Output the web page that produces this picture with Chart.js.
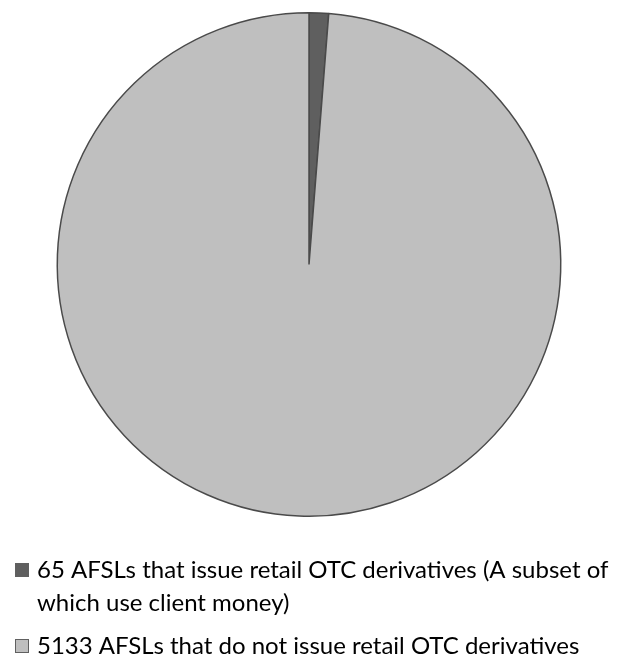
<!DOCTYPE html>
<html>
<head>
<meta charset="utf-8">
<script src="https://cdn.jsdelivr.net/npm/chart.js@4/dist/chart.umd.min.js"></script>
<style>
  html, body { margin: 0; padding: 0; background: #fff; }
  #wrap { width: 617px; height: 662px; position: relative; }
</style>
</head>
<body>
<div id="wrap"><canvas id="pieChart" width="617" height="662"></canvas></div>
<script>
// AFSL counts
const labels = [
  '65 AFSLs that issue retail OTC derivatives (A subset of which use client money)',
  '5133 AFSLs that do not issue retail OTC derivatives'
];
const counts = [65, 5133];
const colors = ['#5f5f5f', '#bfbfbf'];

// legend drawn under the pie, with wrapped lines
const wrapLegend = {
  id: 'wrapLegend',
  afterDraw(chart) {
    const ctx = chart.ctx;
    const ds = chart.data.datasets[0];
    const textX = 37, boxX = 15, box = 14, maxW = 575, lineH = 33, itemGap = 43;
    let y = 570;
    ctx.save();
    ctx.font = '24px Lato';
    ctx.textBaseline = 'middle';
    chart.data.labels.forEach((lab, i) => {
      // wrap words
      const words = lab.split(' ');
      const lines = [];
      let cur = '';
      words.forEach(w => {
        const test = cur ? cur + ' ' + w : w;
        if (ctx.measureText(test).width > maxW && cur) {
          lines.push(cur);
          cur = w;
        } else {
          cur = test;
        }
      });
      lines.push(cur);

      ctx.fillStyle = ds.backgroundColor[i];
      ctx.fillRect(boxX, y - box / 2, box, box);
      ctx.strokeStyle = '#606060';
      ctx.lineWidth = 1;
      ctx.strokeRect(boxX + 0.5, y - box / 2 + 0.5, box - 1, box - 1);

      ctx.fillStyle = '#000';
      lines.forEach((ln, k) => {
        ctx.fillText(ln, textX, y + k * lineH);
      });
      y += (lines.length - 1) * lineH + itemGap;
    });
    ctx.restore();
  }
};

const ctx = document.getElementById('pieChart').getContext('2d');
const pieChart = new Chart(ctx, {
  type: 'pie',
  data: {
    labels: labels,
    datasets: [{
      data: counts,
      backgroundColor: colors,
      borderColor: '#4a4a4a',
      borderWidth: 1.5
    }]
  },
  options: {
    responsive: false,
    animation: false,
    layout: {
      padding: { top: 12, bottom: 145, left: 1, right: 0 }
    },
    plugins: {
      legend: { display: false },
      tooltip: { enabled: false }
    }
  },
  plugins: [wrapLegend]
});
</script>
</body>
</html>
